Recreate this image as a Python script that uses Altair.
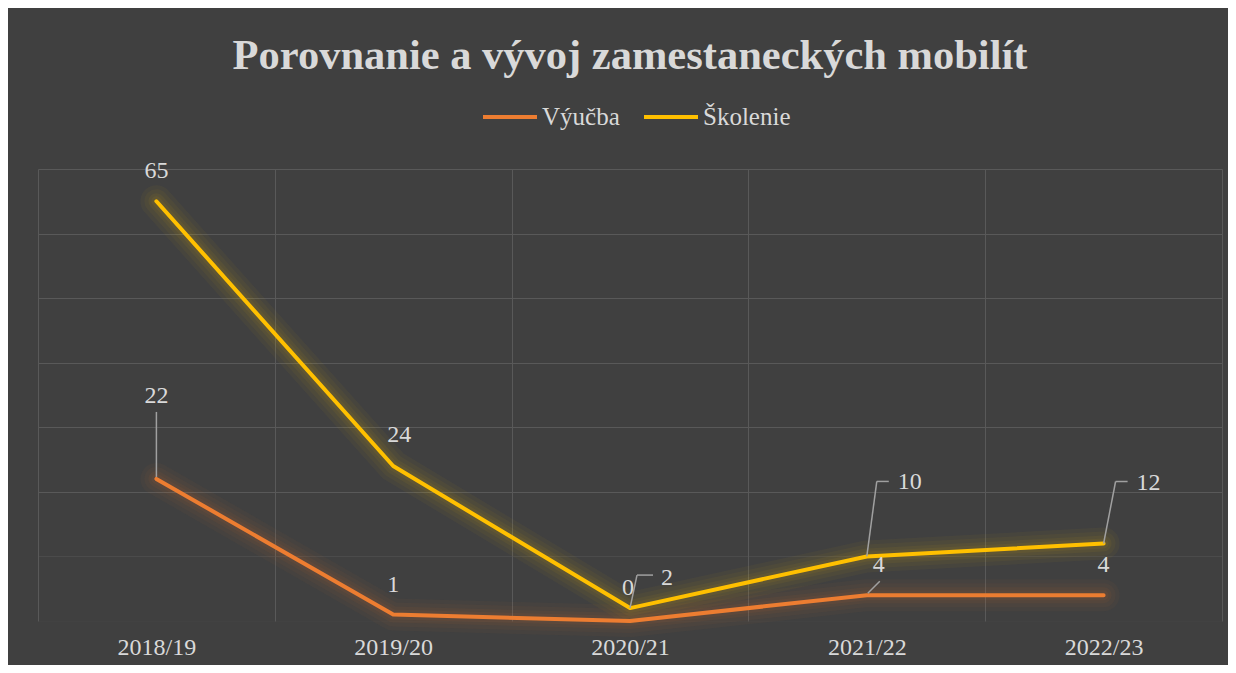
import altair as alt
import pandas as pd

# ---- data ----
years = ["2018/19", "2019/20", "2020/21", "2021/22", "2022/23"]
vyucba = [22, 1, 0, 4, 4]
skolenie = [65, 24, 2, 10, 12]
series_names = ["Výučba", "Školenie"]
series_colors = ["#ED7D31", "#FFC000"]
title_text = "Porovnanie a vývoj zamestaneckých mobilít"
grid_values = [0, 10, 20, 30, 40, 50, 60, 70]

rows = []
for name, vals in zip(series_names, [vyucba, skolenie]):
    for yr, v in zip(years, vals):
        rows.append({"year": yr, "series": name, "value": v})
df = pd.DataFrame(rows)

# ---- styles ----
FONT = "Liberation Serif"
TXT = "#d9d9d9"
GRID = "#595959"
LEADER = "#a0a0a0"
BG = "#404040"

xenc = alt.X(
    "year:N", sort=years,
    scale=alt.Scale(type="band", paddingInner=0, paddingOuter=0),
    axis=alt.Axis(title=None, grid=True, tickBand="extent", ticks=False, domain=False,
                  labelFont=FONT, labelFontSize=24, labelColor=TXT, labelPadding=14,
                  labelAngle=0, gridColor=GRID, gridWidth=1),
)
yenc = alt.Y(
    "value:Q",
    scale=alt.Scale(domain=[0, 70], nice=False, zero=True),
    axis=alt.Axis(title=None, values=grid_values, labels=False, ticks=False, domain=False,
                  grid=True, gridColor=GRID, gridWidth=1,
                  gridOpacity={"condition": [{"test": "datum.value < 5", "value": 0.1},
                                             {"test": "datum.value < 15", "value": 0.45}],
                               "value": 1}),
)
cenc = alt.Color(
    "series:N",
    scale=alt.Scale(domain=series_names, range=series_colors),
    sort=series_names,
    legend=alt.Legend(title=None, orient="none", direction="horizontal",
                      legendX=443, legendY=-81, padding=0,
                      symbolType="stroke", symbolSize=2916, symbolStrokeWidth=4,
                      symbolOpacity=1, labelFont=FONT, labelFontSize=25,
                      labelColor=TXT, labelOffset=3, columnPadding=16),
)

base = alt.Chart(df)

layers = []
# glow
for w, op in [(32, 0.04), (24, 0.045), (16, 0.05), (10, 0.06)]:
    layers.append(
        base.mark_line(strokeWidth=w, opacity=op, strokeCap="round", strokeJoin="round")
        .encode(x=xenc, y=yenc, color=cenc, detail="series:N")
    )
# main lines
layers.append(
    base.mark_line(strokeWidth=4, strokeCap="round", strokeJoin="round")
    .encode(x=xenc, y=yenc, color=cenc)
)

# leader lines (pixel offsets from the data point)
leaders = [
    ("Výučba", "2018/19", 0, -2, 0, -67),
    ("Výučba", "2021/22", 1, -2, 13, -14),
    ("Školenie", "2020/21", 0, 0, 7, -33),
    ("Školenie", "2020/21", 7, -33, 23, -33),
    ("Školenie", "2021/22", 0, 0, 10, -75),
    ("Školenie", "2021/22", 10, -75, 22, -75),
    ("Školenie", "2022/23", 0, 0, 12, -62),
    ("Školenie", "2022/23", 12, -62, 24, -62),
]
for s, yr, x1, y1, x2, y2 in leaders:
    layers.append(
        base.transform_filter((alt.datum.series == s) & (alt.datum.year == yr))
        .mark_rule(color=LEADER, strokeWidth=1.5, xOffset=x1, yOffset=y1,
                   x2Offset=x2, y2Offset=y2)
        .encode(x=xenc, y=yenc, x2=alt.X2("year:N"), y2=alt.Y2("value:Q"))
    )

# data labels (pixel offsets from the data point)
label_offsets = {
    ("Výučba", "2018/19"): (0, -83),
    ("Výučba", "2019/20"): (0, -30),
    ("Výučba", "2020/21"): (-2, -33),
    ("Výučba", "2021/22"): (12, -30),
    ("Výučba", "2022/23"): (0, -30),
    ("Školenie", "2018/19"): (0, -30),
    ("Školenie", "2019/20"): (6, -31),
    ("Školenie", "2020/21"): (37, -30),
    ("Školenie", "2021/22"): (43, -74),
    ("Školenie", "2022/23"): (45, -61),
}
for (s, yr), (dx, dy) in label_offsets.items():
    layers.append(
        base.transform_filter((alt.datum.series == s) & (alt.datum.year == yr))
        .mark_text(font=FONT, fontSize=24, color=TXT, dx=dx, dy=dy)
        .encode(x=xenc, y=yenc, text="value:Q")
    )

chart = (
    alt.layer(*layers)
    .properties(
        width=1184, height=452,
        title=alt.TitleParams(text=title_text, font=FONT, fontSize=42.5, fontWeight="bold",
                              color=TXT, anchor="middle", offset=11),
        padding={"left": 30, "top": 161, "right": 6, "bottom": 44},
        autosize=alt.AutoSizeParams(type="none"),
        background=BG,
    )
    .configure_view(stroke=None)
)

chart.save("out.html", embed_options={"renderer": "svg", "actions": False})
